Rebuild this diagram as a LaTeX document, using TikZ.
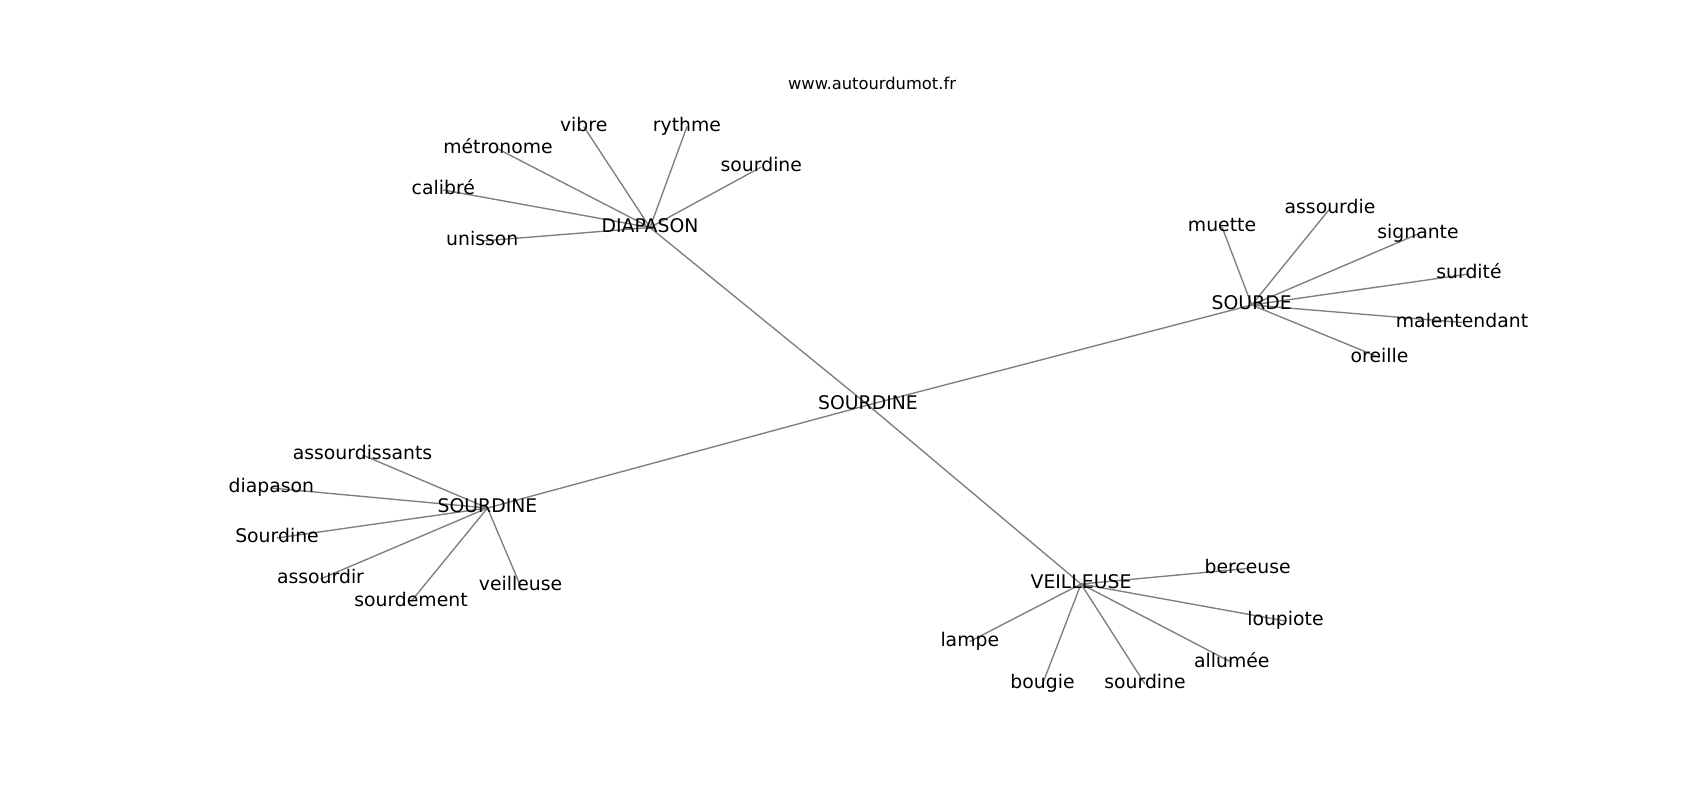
\documentclass[tikz,border=0pt]{standalone}
\usepackage{fontspec}
\setmainfont{DejaVu Sans}
\usepackage{tikz}
\usetikzlibrary{backgrounds}

\begin{document}
\begin{tikzpicture}[x=0.0254cm, y=-0.0254cm,
    word/.style={inner sep=0pt, font=\fontsize{13.6}{16}\selectfont, text height=10.3pt, text depth=3.1pt},
    link/.style={draw=gray, line width=1pt}
]
    \useasboundingbox (0,0) rectangle (1700,800);

    \node[inner sep=0pt, font=\fontsize{11.8}{14}\selectfont] (site) at (872,83) {www.autourdumot.fr};

    % hubs
    \node[word] (centre) at (868,405) {SOURDINE};
    \node[word] (diapason) at (650,227.5) {DIAPASON};
    \node[word] (sourde) at (1251.7,305) {SOURDE};
    \node[word] (sourdineg) at (487.5,508) {SOURDINE};
    \node[word] (veilleuse) at (1081,584) {VEILLEUSE};

    % around DIAPASON
    \node[word] (dvibre) at (583.7,126.5) {vibre};
    \node[word] (drythme) at (687,126.5) {rythme};
    \node[word] (dmetronome) at (498,149) {métronome};
    \node[word] (dsourdine) at (761.3,167) {sourdine};
    \node[word] (dcalibre) at (443.3,190) {calibré};
    \node[word] (dunisson) at (482.3,241) {unisson};

    % around SOURDE
    \node[word] (smuette) at (1222,227) {muette};
    \node[word] (sassourdie) at (1330,208.5) {assourdie};
    \node[word] (ssignante) at (1418,234) {signante};
    \node[word] (ssurdite) at (1469,274) {surdité};
    \node[word] (smalentendant) at (1462,322.5) {malentendant};
    \node[word] (soreille) at (1379.5,357.5) {oreille};

    % around SOURDINE (left)
    \node[word] (gassourdissants) at (362.5,455) {assourdissants};
    \node[word] (gdiapason) at (271.3,488) {diapason};
    \node[word] (gsourdine) at (277,538) {Sourdine};
    \node[word] (gassourdir) at (320.5,579) {assourdir};
    \node[word] (gsourdement) at (411,601.5) {sourdement};
    \node[word] (gveilleuse) at (520.5,586) {veilleuse};

    % around VEILLEUSE
    \node[word] (vberceuse) at (1247.7,568.5) {berceuse};
    \node[word] (vloupiote) at (1285.4,621) {loupiote};
    \node[word] (vallumee) at (1231.8,662.5) {allumée};
    \node[word] (vsourdine) at (1145,684) {sourdine};
    \node[word] (vbougie) at (1042.5,684) {bougie};
    \node[word] (vlampe) at (969.8,641.5) {lampe};

    \begin{scope}[on background layer]
        \foreach \h in {diapason,sourde,sourdineg,veilleuse}
            \draw[link] (centre.center) -- (\h.center);
        \foreach \w in {dvibre,drythme,dmetronome,dsourdine,dcalibre,dunisson}
            \draw[link] (diapason.center) -- (\w.center);
        \foreach \w in {smuette,sassourdie,ssignante,ssurdite,smalentendant,soreille}
            \draw[link] (sourde.center) -- (\w.center);
        \foreach \w in {gassourdissants,gdiapason,gsourdine,gassourdir,gsourdement,gveilleuse}
            \draw[link] (sourdineg.center) -- (\w.center);
        \foreach \w in {vberceuse,vloupiote,vallumee,vsourdine,vbougie,vlampe}
            \draw[link] (veilleuse.center) -- (\w.center);
    \end{scope}
\end{tikzpicture}
\end{document}
